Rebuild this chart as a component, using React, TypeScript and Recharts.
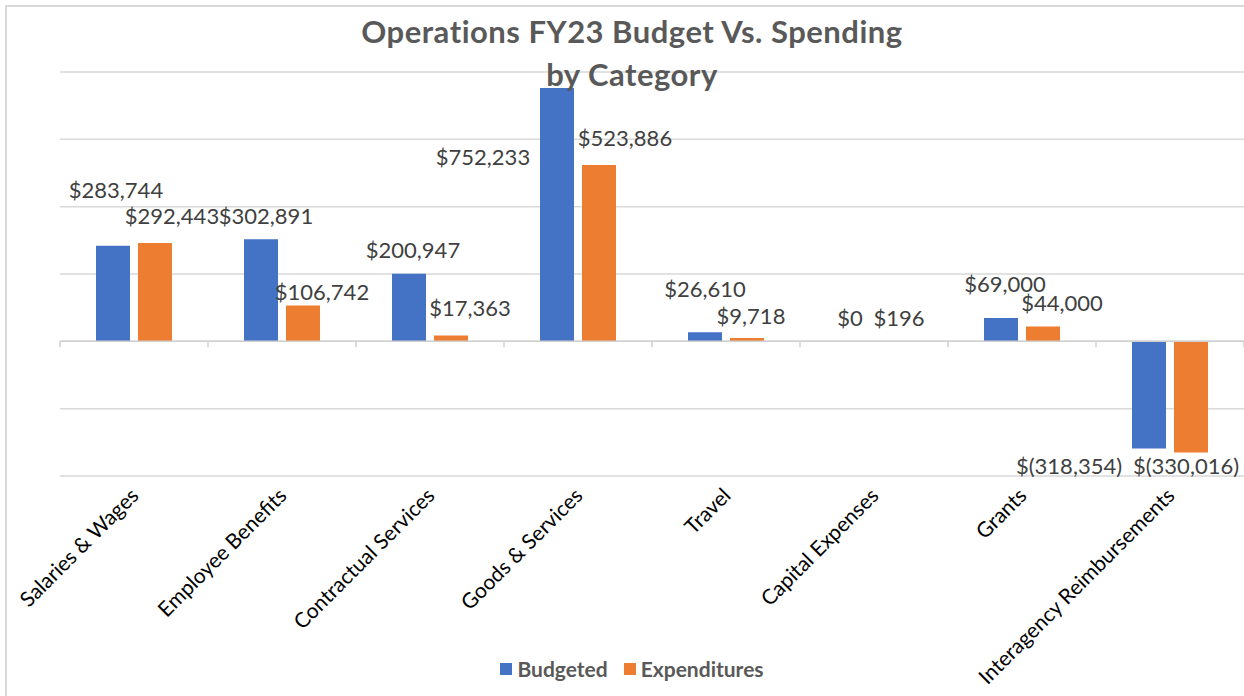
import React from "react";
import {
  BarChart,
  Bar,
  XAxis,
  YAxis,
  CartesianGrid,
  LabelList,
  ReferenceLine,
  Legend,
} from "recharts";

const categories = [
  "Salaries & Wages",
  "Employee Benefits",
  "Contractual Services",
  "Goods & Services",
  "Travel",
  "Capital Expenses",
  "Grants",
  "Interagency Reimbursements",
];
const budgeted = [283744, 302891, 200947, 752233, 26610, 0, 69000, -318354];
const expenditures = [292443, 106742, 17363, 523886, 9718, 196, 44000, -330016];
const yTicks = [-400000, -200000, 0, 200000, 400000, 600000, 800000];

// hand-placed data labels, like in the original sheet: [dx from bar centre, dy from bar end]
const budgetedLabelOffsets = [
  [3, -56], [5, -24], [4, -24], [-74, 68], [0, -44], [-3, -24], [4, -35], [-80, 17],
];
const expenditureLabelOffsets = [
  [17, -27], [19, -14], [19, -28], [26, -27], [4, -23], [4, -24], [19, -24], [-5, 13],
];

const BLUE = "#4472c4";
const ORANGE = "#ed7d31";
const FONT = "Lato, 'Open Sans', sans-serif";

const data = categories.map((name, i) => ({
  name,
  budgeted: budgeted[i],
  expenditures: expenditures[i],
}));

function fmtMoney(v: number) {
  const s = Math.abs(v).toLocaleString("en-US");
  return v < 0 ? `$(${s})` : `$${s}`;
}

function makeLabel(series: number[], offsets: number[][]) {
  return (props: any) => {
    const { x, y, width, height, value } = props;
    const v = Number(value);
    const i = series.indexOf(v);
    const cx = Number(x) + Number(width) / 2;
    const top = Math.min(Number(y), Number(y) + Number(height));
    const bottom = Math.max(Number(y), Number(y) + Number(height));
    const end = v < 0 ? bottom : v === 0 ? bottom : top;
    const [dx, dy] = offsets[i] ?? [0, -12];
    return (
      <text
        x={cx + dx}
        y={end + dy}
        textAnchor="middle"
        dominantBaseline="central"
        fontFamily={FONT}
        fontSize={22}
        fill="#404040"
      >
        {fmtMoney(v)}
      </text>
    );
  };
}

function AxisTick(props: any) {
  const { x, y, payload } = props;
  const px = Number(x) + 6;
  const py = Number(y) + 13;
  return (
    <text
      x={px}
      y={py}
      transform={`rotate(-45, ${px}, ${py})`}
      textAnchor="end"
      fontFamily={FONT}
      fontSize={21}
      fill="#000"
    >
      {payload.value}
    </text>
  );
}

// zero axis line with tick marks on the category boundaries
function ZeroAxis(props: any) {
  const { x1, y1, x2 } = props;
  const n = categories.length;
  const step = (x2 - x1) / n;
  return (
    <g>
      <line x1={x1} y1={y1} x2={x2} y2={y1} stroke="#d0d0d0" strokeWidth={1.5} />
      {Array.from({ length: n + 1 }, (_, i) => (
        <line
          key={i}
          x1={x1 + i * step}
          x2={x1 + i * step}
          y1={y1}
          y2={y1 + 6}
          stroke="#d0d0d0"
          strokeWidth={1.5}
        />
      ))}
    </g>
  );
}

function LegendContent() {
  const item = (color: string, label: string, gap: number) => (
    <div style={{ display: "flex", alignItems: "center", marginRight: gap }}>
      <span style={{ width: 12, height: 12, background: color, marginRight: 5 }} />
      <span>{label}</span>
    </div>
  );
  return (
    <div
      style={{
        display: "flex",
        justifyContent: "center",
        paddingTop: 10,
        paddingLeft: 20,
        fontFamily: FONT,
        fontWeight: 700,
        fontSize: 21,
        lineHeight: "22px",
        color: "#595959",
      }}
    >
      {item(BLUE, "Budgeted", 16)}
      {item(ORANGE, "Expenditures", 0)}
    </div>
  );
}

export default function App() {
  return (
    <div
      style={{
        position: "absolute",
        left: 0,
        top: 0,
        width: 1244,
        height: 696,
        overflow: "hidden",
        background: "#fff",
      }}
    >
      <div
        style={{
          position: "absolute",
          left: 5,
          top: 5,
          width: 1400,
          height: 800,
          borderLeft: "2px solid #d9d9d9",
          borderTop: "2px solid #d9d9d9",
        }}
      />
      <BarChart
        width={1244}
        height={696}
        data={data}
        margin={{ top: 72, right: 0, bottom: 0, left: 60 }}
        barSize={34}
        barGap={8}
      >
        <CartesianGrid vertical={false} stroke="#d9d9d9" strokeWidth={1.5} />
        <XAxis
          dataKey="name"
          axisLine={false}
          tickLine={false}
          interval={0}
          height={172}
          tick={<AxisTick />}
        />
        <YAxis hide domain={[-400000, 800000]} ticks={yTicks} />
        <Legend
          verticalAlign="bottom"
          height={48}
          wrapperStyle={{ left: 0, width: 1244, bottom: 0 }}
          content={<LegendContent />}
        />
        <Bar
          dataKey="budgeted"
          name="Budgeted"
          fill={BLUE}
          minPointSize={0.3}
          isAnimationActive={false}
        >
          <LabelList dataKey="budgeted" content={makeLabel(budgeted, budgetedLabelOffsets)} />
        </Bar>
        <Bar dataKey="expenditures" name="Expenditures" fill={ORANGE} isAnimationActive={false}>
          <LabelList
            dataKey="expenditures"
            content={makeLabel(expenditures, expenditureLabelOffsets)}
          />
        </Bar>
        <ReferenceLine y={0} shape={(p: any) => <ZeroAxis {...p} />} />
      </BarChart>
      <svg
        width={1244}
        height={100}
        style={{ position: "absolute", left: 0, top: 0, pointerEvents: "none" }}
      >
        <text
          x={632}
          y={43}
          textAnchor="middle"
          fontFamily={FONT}
          fontWeight={700}
          fontSize={31}
          letterSpacing={0.5}
          fill="#595959"
        >
          Operations FY23 Budget Vs. Spending
        </text>
        <text
          x={632}
          y={86}
          textAnchor="middle"
          fontFamily={FONT}
          fontWeight={700}
          fontSize={31}
          letterSpacing={0.5}
          fill="#595959"
        >
          by Category
        </text>
      </svg>
    </div>
  );
}
